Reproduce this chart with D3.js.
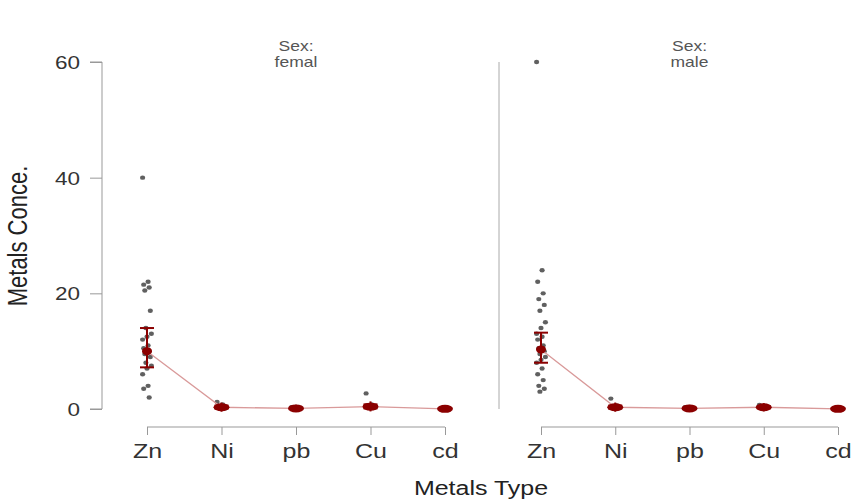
<!DOCTYPE html>
<html>
<head>
<meta charset="utf-8">
<script src="https://cdn.jsdelivr.net/npm/d3@7"></script>
<style>
  body { margin: 0; background: #fff; }
  text { font-family: "Liberation Sans", Arial, sans-serif; }
</style>
</head>
<body>
<div id="chart"></div>
<script>
var metals = ["Zn", "Ni", "pb", "Cu", "cd"];
var yTicks = [0, 20, 40, 60];

var femalePoints = [
  [40, 22, 21.5, 21, 20.5, 17, 14, 13, 12.5, 12, 11, 10.5, 10, 9.5, 9, 8, 7.5, 7, 6, 4, 3.5, 2],
  [1.2, 0.8, 0.5, 0.3, 0.2, 0.1, 0.05],
  [0.3, 0.2, 0.1, 0.05, 0.02],
  [2.7, 0.8, 0.6, 0.4, 0.3, 0.2],
  [0.05, 0.03, 0.02, 0.01]
];
var malePoints = [
  [60, 24, 22, 20, 19, 18, 17, 15, 14, 13, 12.5, 12, 11, 10.5, 10, 9.5, 9, 8.5, 8, 7, 6, 5, 4, 3.5, 3],
  [1.8, 0.6, 0.4, 0.3, 0.2, 0.1],
  [0.3, 0.2, 0.1, 0.05],
  [0.7, 0.4, 0.3, 0.2, 0.1],
  [0.05, 0.03, 0.02]
];

// means and intervals
var femaleMean = [10, 0.3, 0.1, 0.4, 0.03];
var femaleLow = [7.2, 0.05, 0.03, 0.1, 0.01];
var femaleHigh = [14, 0.6, 0.2, 0.8, 0.05];
var maleMean = [10.3, 0.3, 0.1, 0.3, 0.03];
var maleLow = [8, 0.05, 0.03, 0.1, 0.01];
var maleHigh = [13.2, 0.6, 0.2, 0.5, 0.05];

var panels = [
  { title: "femal", pts: femalePoints, mean: femaleMean, lo: femaleLow, hi: femaleHigh, x0: 147, x1: 445 },
  { title: "male", pts: malePoints, mean: maleMean, lo: maleLow, hi: maleHigh, x0: 541, x1: 838 }
];

var width = 854, height = 500;
var sx = 1.25; // the original picture is stretched sideways
var svg = d3.select("#chart").append("svg")
  .attr("width", width)
  .attr("height", height);

var scY = d3.scaleLinear().domain([0, 60]).range([409, 62]);

// stretch a text element horizontally around its anchor
function stretch(sel, x, y) {
  sel.attr("x", 0).attr("y", 0)
    .attr("transform", "translate(" + x + "," + y + ") scale(" + sx + ",1)");
}

// y axis (R style, detached)
var yAx = svg.append("g")
  .attr("transform", "translate(102,0)")
  .call(d3.axisLeft(scY).tickValues(yTicks).tickSize(12).tickPadding(10));
yAx.select(".domain").attr("stroke", "#999").attr("d", "M-12," + scY(60) + "H0V" + scY(0) + "H-12");
yAx.selectAll(".tick line").attr("stroke", "#999");
yAx.selectAll(".tick text")
  .attr("font-size", 18).attr("fill", "#333").attr("dy", "0.36em")
  .each(function() { stretch(d3.select(this), -22, 0); });

svg.append("text")
  .attr("transform", "translate(27,236) scale(" + sx + ",1) rotate(-90)")
  .attr("text-anchor", "middle")
  .attr("font-size", 22)
  .attr("fill", "#222")
  .text("Metals Conce.");

svg.append("text")
  .attr("text-anchor", "middle")
  .attr("font-size", 20)
  .attr("fill", "#222")
  .text("Metals Type")
  .call(stretch, 481, 495);

// panel separator
svg.append("line")
  .attr("x1", 499).attr("x2", 499)
  .attr("y1", scY(60)).attr("y2", scY(0))
  .attr("stroke", "#aaa");

panels.forEach(function(p) {
  var scX = d3.scalePoint().domain(metals).range([p.x0, p.x1]);
  var g = svg.append("g");
  var cx = (p.x0 + p.x1) / 2;

  g.append("text")
    .attr("text-anchor", "middle").attr("font-size", 14).attr("fill", "#555")
    .text("Sex:")
    .call(stretch, cx, 51);
  g.append("text")
    .attr("text-anchor", "middle").attr("font-size", 14).attr("fill", "#555")
    .text(p.title)
    .call(stretch, cx, 67);

  var xAx = g.append("g")
    .attr("transform", "translate(0,427)")
    .call(d3.axisBottom(scX).tickSize(8).tickPadding(8));
  xAx.select(".domain").attr("stroke", "#999").attr("d", "M" + p.x0 + ",0H" + p.x1);
  xAx.selectAll(".tick line").attr("stroke", "#999");
  xAx.selectAll(".tick text")
    .attr("font-size", 20).attr("fill", "#333").attr("dy", null)
    .each(function() { stretch(d3.select(this), 0, 31); });

  // raw points, small deterministic jitter
  metals.forEach(function(m, k) {
    g.append("g").selectAll("ellipse")
      .data(p.pts[k])
      .join("ellipse")
      .attr("cx", function(d, i) { return scX(m) + ((i * 5) % 9 - 4) * 1.1; })
      .attr("cy", function(d) { return scY(d); })
      .attr("rx", 2.6)
      .attr("ry", 2.2)
      .attr("fill", "#444")
      .attr("opacity", 0.85);
  });

  // connecting line of means
  var line = d3.line()
    .x(function(d, i) { return scX(metals[i]); })
    .y(function(d) { return scY(d); });
  g.append("path")
    .attr("d", line(p.mean))
    .attr("fill", "none")
    .attr("stroke", "#d99a9a")
    .attr("stroke-width", 1.3);

  // error bars
  var eb = g.append("g").selectAll("g")
    .data(metals)
    .join("g")
    .attr("stroke", "#8b0000")
    .attr("stroke-width", 2);
  eb.append("line")
    .attr("x1", function(m) { return scX(m); })
    .attr("x2", function(m) { return scX(m); })
    .attr("y1", function(m, i) { return scY(p.lo[i]) + (i ? 3 : 0); })
    .attr("y2", function(m, i) { return scY(p.hi[i]) - (i ? 3 : 0); });
  eb.append("line")
    .attr("x1", function(m) { return scX(m) - 7; })
    .attr("x2", function(m) { return scX(m) + 7; })
    .attr("y1", function(m, i) { return scY(p.lo[i]); })
    .attr("y2", function(m, i) { return scY(p.lo[i]); });
  eb.append("line")
    .attr("x1", function(m) { return scX(m) - 7; })
    .attr("x2", function(m) { return scX(m) + 7; })
    .attr("y1", function(m, i) { return scY(p.hi[i]); })
    .attr("y2", function(m, i) { return scY(p.hi[i]); });

  g.append("g").selectAll("ellipse")
    .data(p.mean)
    .join("ellipse")
    .attr("cx", function(d, i) { return scX(metals[i]); })
    .attr("cy", function(d) { return scY(d); })
    .attr("rx", function(d, i) { return i ? 8 : 5; })
    .attr("ry", 4)
    .attr("fill", "#8b0000");
});
</script>
</body>
</html>
